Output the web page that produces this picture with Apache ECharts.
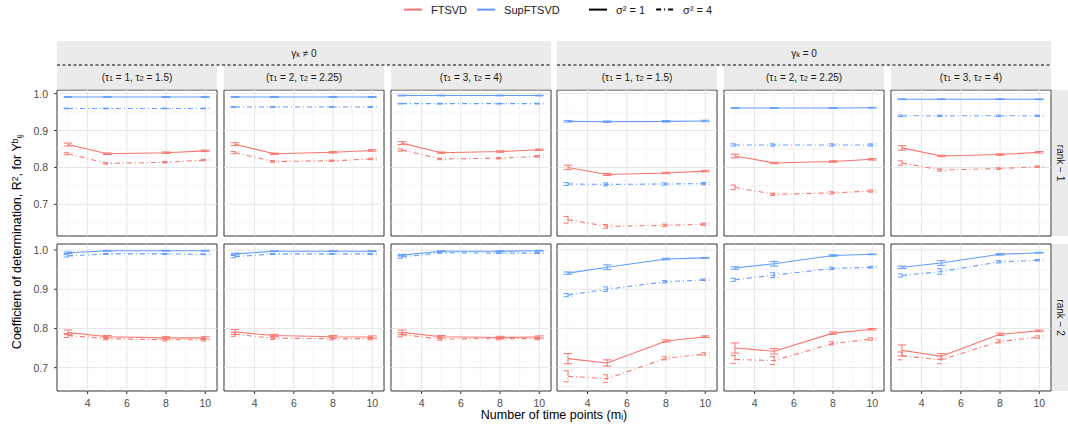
<!DOCTYPE html>
<html><head><meta charset="utf-8">
<script src="https://cdn.jsdelivr.net/npm/echarts@6/dist/echarts.min.js"></script>
<style>html,body{margin:0;padding:0;background:#fff}#chart{width:1068px;height:431px}</style>
</head><body><div id="chart"></div>
<script>
// ---------------- data ----------------
const timePoints = [3, 5, 8, 10];
const xTicks = [4, 6, 8, 10];
const xMinorTicks = [3, 5, 7, 9];
const yTicks = [0.7, 0.8, 0.9, 1.0];
const yMinorTicks = [0.65, 0.75, 0.85, 0.95];
const gammaLabels = ['γ{sub|k} ≠ 0', 'γ{sub|k} = 0'];
const tauLabels = ['(τ{sub|1} = 1, τ{sub|2} = 1.5)', '(τ{sub|1} = 2, τ{sub|2} = 2.25)', '(τ{sub|1} = 3, τ{sub|2} = 4)'];
const rankLabels = ['rank − 1', 'rank − 2'];
const modelNames = ['FTSVD', 'SupFTSVD'];
const sigmaNames = ['σ² = 1', 'σ² = 4'];
const yTitle = 'Coefficient of determination, R{sup|2}, for Y{sup|b}{sub|ij}';
const xTitle = 'Number of time points (m{sub|i})';

// panels: index = row*6 + col ; cols 0-2: gamma != 0, cols 3-5: gamma = 0
const ftsvdS1 = [
  [0.862, 0.837, 0.840, 0.845], [0.863, 0.837, 0.841, 0.846], [0.866, 0.840, 0.843, 0.848],
  [0.800, 0.781, 0.785, 0.790], [0.831, 0.812, 0.816, 0.822], [0.853, 0.831, 0.835, 0.841],
  [0.790, 0.779, 0.776, 0.776], [0.791, 0.782, 0.779, 0.778], [0.790, 0.779, 0.777, 0.778],
  [0.723, 0.712, 0.768, 0.779], [0.750, 0.742, 0.788, 0.798], [0.744, 0.729, 0.785, 0.794]
];
const ftsvdS4 = [
  [0.837, 0.811, 0.814, 0.820], [0.840, 0.816, 0.818, 0.823], [0.847, 0.823, 0.825, 0.830],
  [0.658, 0.640, 0.643, 0.646], [0.746, 0.727, 0.731, 0.736], [0.812, 0.793, 0.797, 0.802],
  [0.782, 0.774, 0.771, 0.771], [0.785, 0.775, 0.774, 0.774], [0.784, 0.773, 0.774, 0.774],
  [0.678, 0.672, 0.724, 0.735], [0.721, 0.718, 0.762, 0.773], [0.730, 0.720, 0.767, 0.778]
];
const supS1 = [
  [0.991, 0.991, 0.991, 0.991], [0.991, 0.991, 0.991, 0.991], [0.995, 0.995, 0.995, 0.995],
  [0.925, 0.924, 0.925, 0.926], [0.961, 0.961, 0.961, 0.962], [0.985, 0.985, 0.985, 0.985],
  [0.993, 0.998, 0.998, 0.998], [0.990, 0.997, 0.997, 0.997], [0.987, 0.997, 0.997, 0.998],
  [0.941, 0.956, 0.977, 0.980], [0.954, 0.965, 0.986, 0.989], [0.956, 0.967, 0.989, 0.993]
];
const supS4 = [
  [0.960, 0.960, 0.960, 0.960], [0.964, 0.964, 0.964, 0.964], [0.973, 0.973, 0.973, 0.973],
  [0.755, 0.754, 0.755, 0.756], [0.861, 0.861, 0.861, 0.861], [0.940, 0.940, 0.940, 0.940],
  [0.985, 0.990, 0.990, 0.989], [0.983, 0.990, 0.990, 0.990], [0.982, 0.993, 0.992, 0.992],
  [0.885, 0.900, 0.919, 0.924], [0.924, 0.936, 0.953, 0.956], [0.935, 0.945, 0.970, 0.974]
];
// half-widths of the error bars
const ftsvdS1Err = [
  [0.004, 0.002, 0.002, 0.002], [0.004, 0.002, 0.002, 0.002], [0.004, 0.002, 0.002, 0.002],
  [0.006, 0.003, 0.002, 0.002], [0.005, 0.002, 0.002, 0.002], [0.006, 0.002, 0.002, 0.002],
  [0.006, 0.003, 0.003, 0.003], [0.006, 0.003, 0.003, 0.003], [0.006, 0.003, 0.003, 0.003],
  [0.013, 0.008, 0.003, 0.002], [0.013, 0.007, 0.003, 0.002], [0.014, 0.007, 0.003, 0.002]
];
const ftsvdS4Err = [
  [0.003, 0.002, 0.002, 0.002], [0.003, 0.002, 0.002, 0.002], [0.003, 0.002, 0.002, 0.002],
  [0.009, 0.005, 0.003, 0.003], [0.006, 0.003, 0.003, 0.003], [0.006, 0.003, 0.002, 0.002],
  [0.005, 0.003, 0.003, 0.003], [0.005, 0.003, 0.003, 0.003], [0.005, 0.003, 0.003, 0.003],
  [0.014, 0.010, 0.004, 0.003], [0.010, 0.010, 0.004, 0.003], [0.010, 0.010, 0.004, 0.003]
];
const supS1Err = [
  [0.001, 0.001, 0.001, 0.001], [0.001, 0.001, 0.001, 0.001], [0.001, 0.001, 0.001, 0.001],
  [0.002, 0.002, 0.002, 0.002], [0.001, 0.001, 0.001, 0.001], [0.001, 0.001, 0.001, 0.001],
  [0.002, 0.001, 0.001, 0.001], [0.002, 0.001, 0.001, 0.001], [0.002, 0.001, 0.001, 0.001],
  [0.003, 0.006, 0.002, 0.001], [0.003, 0.006, 0.002, 0.001], [0.003, 0.006, 0.002, 0.001]
];
const supS4Err = [
  [0.001, 0.001, 0.001, 0.001], [0.001, 0.001, 0.001, 0.001], [0.001, 0.001, 0.001, 0.001],
  [0.004, 0.004, 0.003, 0.003], [0.003, 0.003, 0.003, 0.003], [0.002, 0.002, 0.002, 0.002],
  [0.003, 0.001, 0.001, 0.001], [0.003, 0.001, 0.001, 0.001], [0.003, 0.001, 0.001, 0.001],
  [0.004, 0.006, 0.003, 0.002], [0.004, 0.006, 0.003, 0.002], [0.004, 0.007, 0.003, 0.002]
];

// ---------------- layout / style ----------------
const RED = '#F8766D', BLUE = '#619CFF';
const DASHDOT = [5, 3, 1, 3];
const FONT = 'Liberation Sans, Arial, Helvetica, sans-serif';
const PANEL_LEFTS = [57, 224, 391, 557, 724, 891];
const PANEL_W = 160;
const ROWS = [{ top: 90, height: 146, min: 0.614, max: 1.010 }, { top: 244, height: 147, min: 0.6405, max: 1.0153 }];
const XMIN = 2.44, XMAX = 10.6;
const CAP = 0.22;

const combos = [
  { name: 'FTSVD σ1', vals: ftsvdS1, errs: ftsvdS1Err, color: RED, dash: null },
  { name: 'FTSVD σ4', vals: ftsvdS4, errs: ftsvdS4Err, color: RED, dash: DASHDOT },
  { name: 'SupFTSVD σ1', vals: supS1, errs: supS1Err, color: BLUE, dash: null },
  { name: 'SupFTSVD σ4', vals: supS4, errs: supS4Err, color: BLUE, dash: DASHDOT }
];

function pickLabel(ticks, digits) {
  return function (v) {
    for (const t of ticks) if (Math.abs(v - t) < 1e-6) return digits ? t.toFixed(digits) : String(t);
    return '';
  };
}

const grids = [], xAxes = [], yAxes = [], series = [];
for (let r = 0; r < 2; r++) {
  for (let c = 0; c < 6; c++) {
    const idx = r * 6 + c;
    const row = ROWS[r];
    grids.push({ left: PANEL_LEFTS[c], top: row.top, width: PANEL_W, height: row.height, show: true,
      borderColor: '#333333', borderWidth: 1, backgroundColor: '#ffffff' });
    xAxes.push({ type: 'value', gridIndex: idx, min: XMIN, max: XMAX,
      axisLine: { show: false }, axisTick: { show: false }, splitLine: { show: false },
      axisLabel: { show: r === 1, formatter: pickLabel(xTicks, 0), color: '#4D4D4D', fontSize: 10.5,
        fontFamily: FONT, margin: 6, showMinLabel: false, showMaxLabel: false } });
    yAxes.push({ type: 'value', gridIndex: idx, min: row.min, max: row.max,
      axisLine: { show: false }, axisTick: { show: false }, splitLine: { show: false },
      axisLabel: { show: c === 0, formatter: pickLabel(yTicks, 1), color: '#4D4D4D', fontSize: 10.5,
        fontFamily: FONT, margin: 9, showMinLabel: false, showMaxLabel: false } });

    // grid lines + tick marks
    series.push({ type: 'custom', xAxisIndex: idx, yAxisIndex: idx, silent: true, z: 1, animation: false,
      data: [[6, 0.8]],
      renderItem: (function (rr, cc, rowInfo) {
        return function (params, api) {
          const cs = params.coordSys;
          const x0 = cs.x, x1 = cs.x + cs.width, y0 = cs.y, y1 = cs.y + cs.height;
          const ch = [];
          const minorSt = { stroke: '#EFEFEF', lineWidth: 0.6 };
          const majorSt = { stroke: '#E6E6E6', lineWidth: 1 };
          xMinorTicks.forEach(v => { const p = api.coord([v, rowInfo.min])[0]; ch.push({ type: 'line', shape: { x1: p, y1: y0, x2: p, y2: y1 }, style: minorSt }); });
          yMinorTicks.forEach(v => { if (v > rowInfo.min && v < rowInfo.max) { const p = api.coord([XMIN, v])[1]; ch.push({ type: 'line', shape: { x1: x0, y1: p, x2: x1, y2: p }, style: minorSt }); } });
          xTicks.forEach(v => { const p = api.coord([v, rowInfo.min])[0]; ch.push({ type: 'line', shape: { x1: p, y1: y0, x2: p, y2: y1 }, style: majorSt }); });
          yTicks.forEach(v => { const p = api.coord([XMIN, v])[1]; ch.push({ type: 'line', shape: { x1: x0, y1: p, x2: x1, y2: p }, style: majorSt }); });
          const tickSt = { stroke: '#333333', lineWidth: 1 };
          if (cc === 0) yTicks.forEach(v => { const p = api.coord([XMIN, v])[1]; ch.push({ type: 'line', shape: { x1: x0 - 3, y1: p, x2: x0, y2: p }, style: tickSt }); });
          if (rr === 1) xTicks.forEach(v => { const p = api.coord([v, rowInfo.min])[0]; ch.push({ type: 'line', shape: { x1: p, y1: y1, x2: p, y2: y1 + 3 }, style: tickSt }); });
          return { type: 'group', children: ch };
        };
      })(r, c, row) });

    combos.forEach(cb => {
      const vals = cb.vals[idx], errs = cb.errs[idx];
      series.push({ type: 'line', name: cb.name, xAxisIndex: idx, yAxisIndex: idx, symbol: 'none', silent: true,
        animation: false, z: 3,
        lineStyle: { color: cb.color, width: 1.1, type: cb.dash || 'solid' },
        data: timePoints.map((x, i) => [x, vals[i]]) });
      series.push({ type: 'custom', name: cb.name, xAxisIndex: idx, yAxisIndex: idx, silent: true, animation: false, z: 3,
        data: timePoints.map((x, i) => [x, vals[i], errs[i]]),
        renderItem: (function (color, dash) {
          return function (params, api) {
            const x = api.value(0), y = api.value(1), e = api.value(2);
            const a = api.coord([x, y + e]), b = api.coord([x, y - e]);
            const l = api.coord([x - CAP, y])[0], rr2 = api.coord([x + CAP, y])[0];
            const st = { stroke: color, lineWidth: 1, fill: null };
            if (dash) st.lineDash = dash;
            return { type: 'group', children: [
              { type: 'line', shape: { x1: a[0], y1: a[1], x2: b[0], y2: b[1] }, style: st },
              { type: 'line', shape: { x1: l, y1: a[1], x2: rr2, y2: a[1] }, style: st },
              { type: 'line', shape: { x1: l, y1: b[1], x2: rr2, y2: b[1] }, style: st }
            ] };
          };
        })(cb.color, cb.dash) });
    });
  }
}

// legend-only series
[{ n: modelNames[0], c: RED, d: 'solid' }, { n: modelNames[1], c: BLUE, d: 'solid' },
 { n: sigmaNames[0], c: '#000000', d: 'solid' }, { n: sigmaNames[1], c: '#000000', d: DASHDOT }].forEach(o => {
  series.push({ type: 'line', name: o.n, xAxisIndex: 0, yAxisIndex: 0, data: [], symbol: 'none',
    itemStyle: { color: o.c }, lineStyle: { color: o.c, width: 1.6, type: o.d } });
});

const legendCommon = { top: 4, padding: 0, itemWidth: 18, itemHeight: 14, orient: 'horizontal', selectedMode: false,
  itemStyle: { opacity: 0 },
  textStyle: { fontSize: 11, color: '#1A1A1A', fontFamily: FONT, padding: [0, 0, 0, 4] } };

// graphics: strips and titles
const graphics = [];
const richSub = { sub: { fontSize: 7.5, verticalAlign: 'bottom', lineHeight: 9, fontFamily: FONT, fill: '#1A1A1A' } };
const groupBounds = [[PANEL_LEFTS[0], PANEL_LEFTS[2] + PANEL_W], [PANEL_LEFTS[3], PANEL_LEFTS[5] + PANEL_W]];
groupBounds.forEach((gb, g) => {
  graphics.push({ type: 'rect', shape: { x: gb[0], y: 41, width: gb[1] - gb[0], height: 24 }, style: { fill: '#EBEBEB' }, silent: true });
  graphics.push({ type: 'text', x: (gb[0] + gb[1]) / 2, y: 53, z: 10, silent: true,
    style: { text: gammaLabels[g], align: 'center', verticalAlign: 'middle', fontSize: 10, fontFamily: FONT, fill: '#1A1A1A', rich: richSub } });
});
PANEL_LEFTS.forEach((L, c) => {
  graphics.push({ type: 'rect', shape: { x: L, y: 65, width: PANEL_W, height: 24.5 }, style: { fill: '#EBEBEB' }, silent: true });
  graphics.push({ type: 'text', x: L + PANEL_W / 2, y: 77, z: 10, silent: true,
    style: { text: tauLabels[c % 3], align: 'center', verticalAlign: 'middle', fontSize: 10, fontFamily: FONT, fill: '#1A1A1A', rich: richSub } });
});
groupBounds.forEach(gb => {
  graphics.push({ type: 'line', shape: { x1: gb[0], y1: 65, x2: gb[1], y2: 65 }, z: 11, silent: true,
    style: { stroke: '#000000', lineWidth: 1, lineDash: [3, 2.5] } });
});
ROWS.forEach((row, r) => {
  graphics.push({ type: 'rect', shape: { x: 1052, y: row.top, width: 16, height: row.height }, style: { fill: '#EBEBEB' }, silent: true });
  graphics.push({ type: 'text', x: 1060, y: row.top + row.height / 2, rotation: -Math.PI / 2, z: 10, silent: true,
    style: { text: rankLabels[r], align: 'center', verticalAlign: 'middle', fontSize: 10, fontFamily: FONT, fill: '#1A1A1A' } });
});
graphics.push({ type: 'text', x: 17, y: 242, rotation: Math.PI / 2, z: 10, silent: true,
  style: { text: yTitle, align: 'center', verticalAlign: 'middle', fontSize: 12.5, fontFamily: FONT, fill: '#000000',
    rich: { sup: { fontSize: 8.5, verticalAlign: 'top', lineHeight: 11, fontFamily: FONT, fill: '#000' },
            sub: { fontSize: 8, verticalAlign: 'bottom', lineHeight: 10, fontFamily: FONT, fill: '#000' } } } });
graphics.push({ type: 'text', x: 554, y: 415, z: 10, silent: true,
  style: { text: xTitle, align: 'center', verticalAlign: 'middle', fontSize: 12.5, fontFamily: FONT, fill: '#000000',
    rich: { sub: { fontSize: 8.5, verticalAlign: 'bottom', lineHeight: 11, fontFamily: FONT, fill: '#000' } } } });

const chart = echarts.init(document.getElementById('chart'), null, { renderer: 'svg' });
chart.setOption({
  animation: false,
  backgroundColor: '#ffffff',
  textStyle: { fontFamily: FONT },
  grid: grids, xAxis: xAxes, yAxis: yAxes, series: series,
  legend: [
    Object.assign({}, legendCommon, { left: 403, itemGap: 9, data: modelNames }),
    Object.assign({}, legendCommon, { left: 588, itemGap: 10, data: sigmaNames })
  ],
  graphic: graphics
});
</script></body></html>
